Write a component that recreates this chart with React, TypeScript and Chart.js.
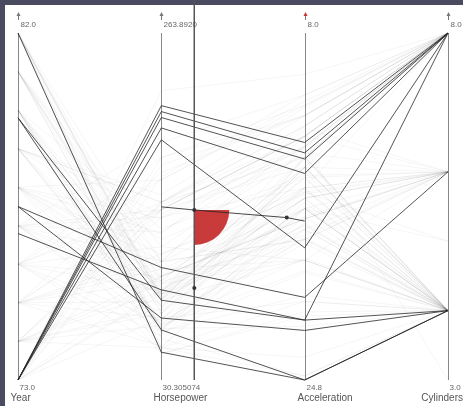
import React, { useEffect, useRef } from "react";
import { Chart, registerables } from "chart.js";

Chart.register(...registerables);

// ---- axes ----
const axisNames = ["Year", "Horsepower", "Acceleration", "Cylinders"];
const axisMin = [73, 30.305074, 8, 3];
const axisMax = [82, 263.892, 24.8, 8];
const axisInverted = [false, false, true, false];
const topLabels = ["82.0", "263.8920", "8.0", "8.0"];
const bottomLabels = ["73.0", "30.305074", "24.8", "3.0"];
const axisArrowRed = [false, false, true, false];

// ---- highlighted cars ----
const hiYear = [73, 73, 73, 73, 73, 82, 79.8, 79.8, 77.5, 76.8, 77.5];
const hiHP = [215, 211, 207, 200, 192, 49, 64, 84, 106, 91, 72];
const hiAcc = [13.3, 13.8, 14.1, 14.8, 18.4, 24.8, 24.8, 21.9, 20.8, 21.9, 22.4];
const hiCyl = [8, 8, 8, 8, 8, 4, 4, 4, 6, 8, 4];

// ---- background (faint) cars ----
const bgYear = [
  73, 73, 73, 73, 73, 73, 73, 73, 73, 73,
  74, 74, 74, 74, 74, 74, 74, 74, 74, 74,
  75, 75, 75, 75, 75, 75, 75, 75, 75, 75,
  76, 76, 76, 76, 76, 76, 76, 76, 76, 76,
  77, 77, 77, 77, 77, 77, 77, 77, 77, 77,
  78, 78, 78, 78, 78, 78, 78, 78, 78, 78,
  79, 79, 79, 79, 79, 79, 79, 79, 79, 79,
  80, 80, 80, 80, 80, 80, 80, 80, 80, 80,
  81, 81, 81, 81, 81, 81, 81, 81, 81, 81,
  82, 82, 82, 82, 82, 82, 82, 82, 82, 82,
];
const bgHP = [
  150, 167, 180, 145, 100, 88, 72, 90, 225, 175,
  67, 52, 100, 78, 150, 145, 75, 90, 95, 140,
  110, 105, 72, 170, 145, 148, 53, 83, 97, 115,
  120, 180, 52, 70, 100, 90, 145, 60, 150, 165,
  110, 145, 130, 75, 68, 97, 190, 63, 88, 140,
  139, 85, 95, 110, 68, 48, 115, 165, 100, 129,
  150, 142, 65, 71, 90, 125, 80, 70, 155, 150,
  90, 65, 48, 67, 88, 77, 100, 132, 62, 52,
  84, 92, 65, 120, 63, 85, 110, 88, 75, 105,
  86, 96, 63, 85, 110, 58, 88, 52, 84, 79,
];
const bgAcc = [
  12.5, 11.0, 11.5, 13.0, 15.5, 16.0, 18.0, 13.5, 10.0, 12.0,
  19.5, 16.5, 17.0, 14.5, 14.0, 13.0, 15.5, 15.5, 16.0, 15.5,
  18.0, 16.5, 21.0, 12.0, 14.5, 13.5, 17.5, 16.5, 14.5, 15.5,
  19.0, 12.0, 21.0, 14.0, 17.0, 16.0, 13.0, 16.5, 12.0, 11.5,
  18.0, 13.0, 13.5, 14.5, 17.5, 14.5, 11.0, 14.0, 16.0, 13.5,
  14.0, 16.5, 19.0, 15.7, 17.2, 21.5, 15.8, 11.3, 17.0, 12.5,
  12.5, 13.6, 22.2, 16.0, 15.0, 15.0, 15.7, 18.2, 11.6, 13.0,
  14.0, 17.9, 21.7, 18.9, 15.0, 16.5, 16.9, 14.9, 19.6, 24.6,
  14.1, 17.5, 16.9, 13.8, 16.2, 17.3, 12.6, 18.0, 16.4, 19.0,
  15.6, 17.8, 20.7, 14.7, 13.0, 24.6, 17.3, 23.7, 19.0, 14.5,
];
const bgCyl = [
  8, 8, 8, 8, 6, 6, 4, 3, 8, 8,
  4, 4, 6, 4, 8, 8, 4, 4, 6, 8,
  6, 6, 4, 8, 8, 8, 4, 4, 6, 6,
  6, 8, 4, 4, 6, 6, 8, 4, 8, 8,
  6, 8, 8, 4, 4, 4, 8, 4, 4, 8,
  8, 4, 4, 6, 4, 4, 6, 8, 6, 8,
  8, 8, 4, 4, 4, 6, 5, 4, 8, 8,
  4, 4, 4, 4, 4, 5, 6, 6, 4, 4,
  4, 6, 4, 6, 4, 4, 6, 4, 4, 4,
  4, 6, 4, 4, 6, 4, 4, 4, 4, 4,
];

// ---- angular brush / cursor (axis-index units, normalized heights) ----
const cursorX = [1.23, 1.23];
const cursorY = [1.095, 0];
const brushX = [1, 1.23, 1.875, 2];
const brushY = [0.499, 0.49, 0.468, 0.458];
const markerX = [1.23, 1.875, 1.23];
const markerY = [0.49, 0.468, 0.265];
const arcCenter = { x: 1.23, y: 0.49 };
const arcRadius = 35;

const norm = (i: number, v: number) => {
  const t = (v - axisMin[i]) / (axisMax[i] - axisMin[i]);
  return axisInverted[i] ? 1 - t : t;
};
const rowPoints = (vals: number[]) => vals.map((v, i) => ({ x: i, y: norm(i, v) }));

export default function App() {
  const ref = useRef<HTMLCanvasElement | null>(null);

  useEffect(() => {
    if (!ref.current) return;
    document.body.style.margin = "0";

    const bgSets = bgYear.map((_, k) => ({
      data: rowPoints([bgYear[k], bgHP[k], bgAcc[k], bgCyl[k]]),
      borderColor: "rgba(0,0,0,0.04)",
      borderWidth: 1,
      pointRadius: 0,
      order: 10,
    }));
    const hiSets = hiYear.map((_, k) => ({
      data: rowPoints([hiYear[k], hiHP[k], hiAcc[k], hiCyl[k]]),
      borderColor: "rgba(35,35,35,0.78)",
      borderWidth: 1,
      pointRadius: 0,
      order: 5,
    }));
    const brushIndex = bgSets.length + hiSets.length;
    const datasets: any[] = [
      ...bgSets,
      ...hiSets,
      {
        data: brushX.map((x, i) => ({ x, y: brushY[i] })),
        borderColor: "rgba(40,40,40,0.85)",
        borderWidth: 1,
        pointRadius: 0,
        order: 2,
      },
      {
        data: cursorX.map((x, i) => ({ x, y: cursorY[i] })),
        borderColor: "#555",
        borderWidth: 1,
        pointRadius: 0,
        order: 1,
      },
      {
        data: markerX.map((x, i) => ({ x, y: markerY[i] })),
        showLine: false,
        pointRadius: 2,
        pointBackgroundColor: "#333",
        pointBorderWidth: 0,
        order: 0,
      },
    ];

    const framePlugin = {
      id: "frame",
      beforeDraw(chart: any) {
        const c = chart.ctx;
        c.save();
        c.fillStyle = "#4a4a60";
        c.fillRect(0, 0, chart.width, chart.height);
        c.fillStyle = "#ffffff";
        c.fillRect(5, 5, chart.width - 5, chart.height - 5);
        c.restore();
      },
      beforeDatasetsDraw(chart: any) {
        const c = chart.ctx;
        const xs = chart.scales.x;
        const ys = chart.scales.y;
        const top = ys.getPixelForValue(1);
        const bottom = ys.getPixelForValue(0);
        c.save();
        axisNames.forEach((name, i) => {
          const x = Math.round(xs.getPixelForValue(i)) + 0.5;
          c.strokeStyle = "#888";
          c.lineWidth = 1;
          c.beginPath();
          c.moveTo(x, top);
          c.lineTo(x, bottom);
          c.stroke();
          // arrow marker
          c.strokeStyle = "#777";
          c.beginPath();
          c.moveTo(x, top - 13);
          c.lineTo(x, top - 19);
          c.stroke();
          c.fillStyle = axisArrowRed[i] ? "#d03030" : "#777";
          c.beginPath();
          c.moveTo(x - 2, top - 17);
          c.lineTo(x + 2, top - 17);
          c.lineTo(x, top - 21);
          c.closePath();
          c.fill();
          // tick labels
          c.fillStyle = "#666";
          c.font = "8px 'Liberation Sans', Arial, sans-serif";
          c.textAlign = "left";
          c.textBaseline = "middle";
          c.fillText(topLabels[i], x + 2, top - 8);
          c.fillText(bottomLabels[i], x + 1, bottom + 8);
          // names
          c.font = "10px 'Liberation Sans', Arial, sans-serif";
          c.fillStyle = "#555";
          const w = c.measureText(name).width;
          let left = x - 8;
          if (left + w > chart.width) left = chart.width - w;
          c.fillText(name, left, bottom + 18);
        });
        c.restore();
      },
      beforeDatasetDraw(chart: any, args: any) {
        if (args.index !== brushIndex) return;
        const c = chart.ctx;
        const cx = chart.scales.x.getPixelForValue(arcCenter.x);
        const cy = chart.scales.y.getPixelForValue(arcCenter.y);
        c.save();
        c.fillStyle = "#c93a3a";
        c.beginPath();
        c.moveTo(cx, cy);
        c.arc(cx, cy, arcRadius, 0, Math.PI / 2);
        c.closePath();
        c.fill();
        c.restore();
      },
    };

    const chart = new Chart(ref.current, {
      type: "line",
      data: { datasets },
      options: {
        responsive: false,
        devicePixelRatio: 1,
        animation: false,
        layout: { padding: { left: 18, right: 15, top: 33, bottom: 26 } },
        elements: { line: { tension: 0 } },
        datasets: { line: { clip: false } as any },
        scales: {
          x: { type: "linear", min: 0, max: 3, display: false },
          y: { type: "linear", min: 0, max: 1, display: false },
        },
        plugins: { legend: { display: false }, tooltip: { enabled: false } },
      } as any,
      plugins: [framePlugin],
    });
    return () => chart.destroy();
  }, []);

  return (
    <div style={{ position: "fixed", left: 0, top: 0, width: 463, height: 406, background: "#4a4a60" }}>
      <canvas ref={ref} width={463} height={406} style={{ display: "block" }} />
    </div>
  );
}
